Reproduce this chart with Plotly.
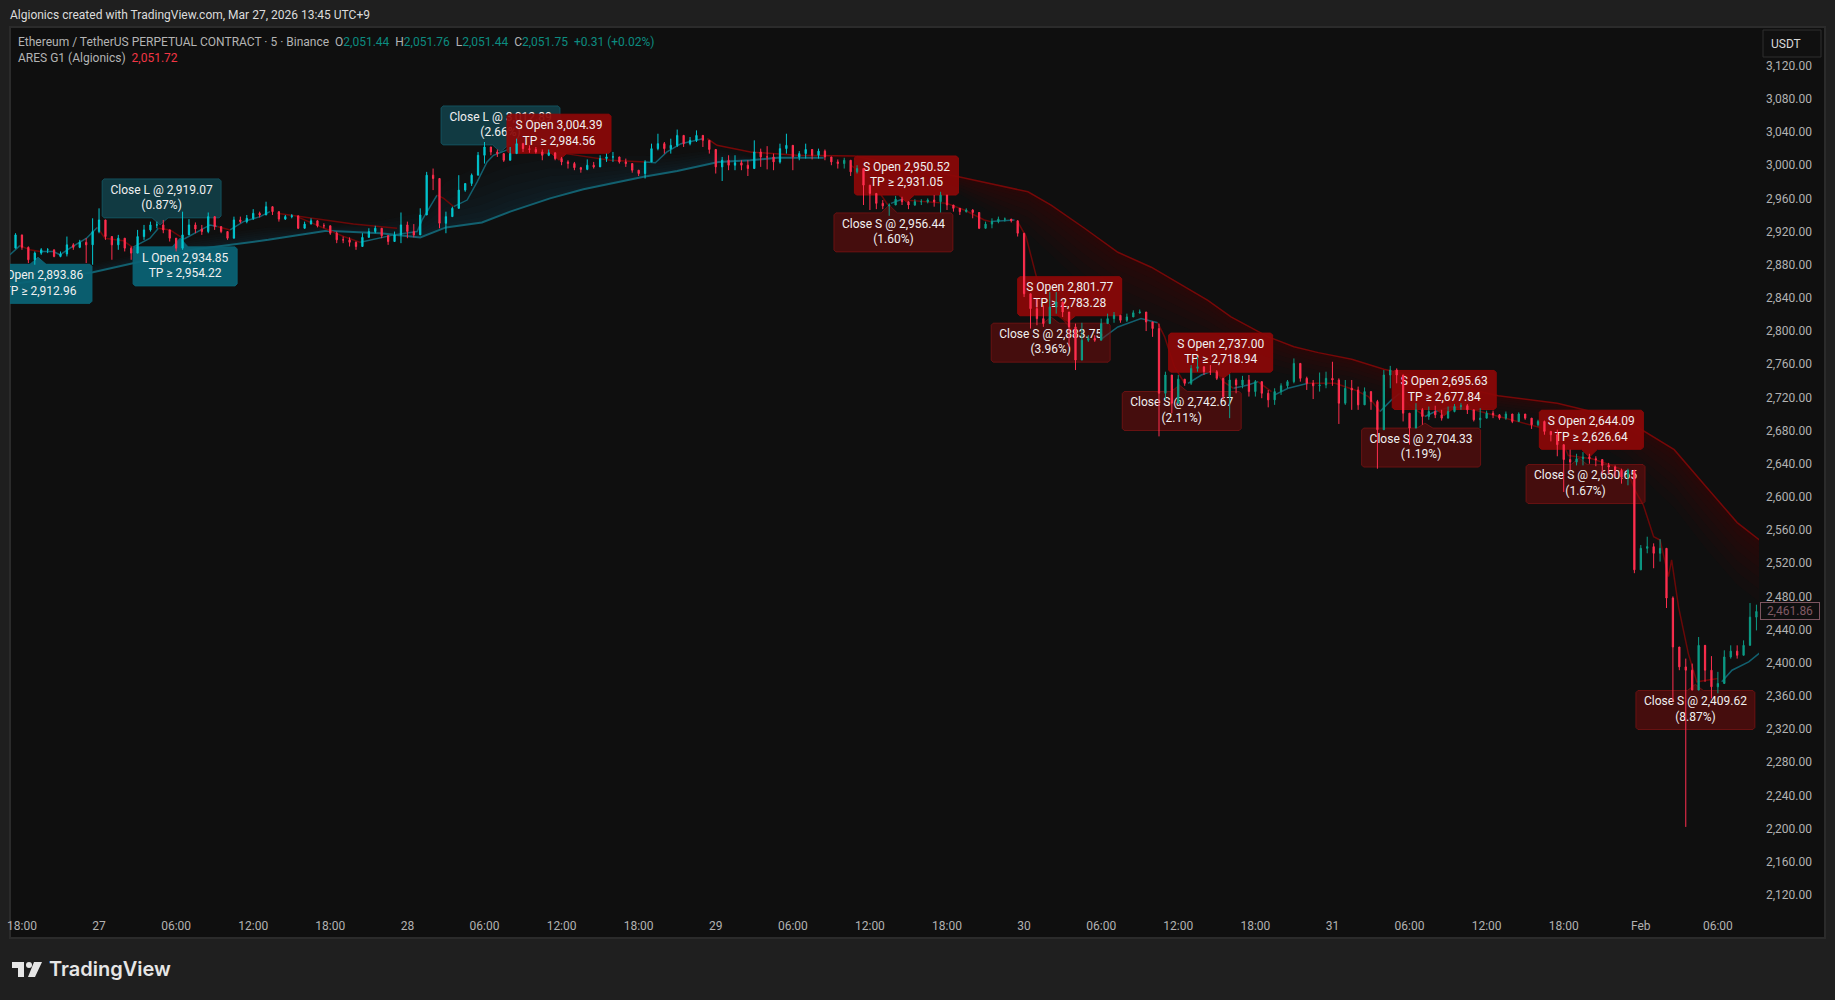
import plotly.graph_objects as go

# Candles: one per 30 minutes, x in hours from Jan 27 00:00
closes = [
    2900, 2916, 2901, 2886, 2894, 2898, 2898, 2890, 2893, 2904,
    2901, 2907, 2904, 2920, 2934, 2914, 2904, 2912, 2900, 2894,
    2914, 2922, 2928, 2928, 2922, 2912, 2900, 2916, 2928, 2923,
    2920, 2938, 2926, 2920, 2912, 2934, 2932, 2936, 2942,
    2940, 2950, 2944, 2935, 2938, 2939, 2924, 2929, 2933, 2927,
    2927, 2918, 2910, 2910, 2907, 2902, 2913, 2920, 2924, 2915,
    2908, 2916, 2928, 2920, 2916, 2940, 2988, 2984, 2930, 2938,
    2948, 2970, 2978, 2988, 3012, 3022, 3016, 3014, 3006,
    3014, 3026, 3020, 3019, 3016, 3012, 3015, 3008, 3004, 3002,
    2997, 2995, 3000, 2998, 3008, 3010, 3010, 3004, 3002, 2994,
    2990, 3004, 3020, 3026, 3020, 3024, 3036, 3026, 3030, 3036,
    3030, 3019, 2998, 3006, 3000, 3003, 3000, 2996, 3016, 3010,
    3010, 3004, 3020, 3024, 3010, 3014, 3019, 3012, 3017, 3010,
    3004, 3002, 3006, 2992, 2996,
    2976, 2966, 2954, 2951, 2952, 2959, 2956, 2952, 2956, 2956,
    2958, 2956, 2964, 2952, 2948, 2944, 2946, 2943, 2924, 2929,
    2932, 2935, 2935, 2933, 2918, 2845, 2827, 2815, 2809, 2829,
    2835, 2823, 2805, 2765, 2789, 2791, 2789, 2809, 2815, 2819,
    2813, 2817, 2822, 2823, 2811,
    2803, 2725, 2747, 2713, 2742, 2737, 2755, 2757, 2751, 2751,
    2743, 2721, 2741, 2735, 2741, 2727, 2739, 2725, 2717, 2727,
    2734, 2739, 2761, 2743, 2737, 2734, 2735, 2743, 2741, 2713,
    2731, 2729, 2711, 2727, 2715, 2681, 2747, 2753, 2747, 2701,
    2683, 2705, 2697, 2703, 2699, 2695, 2703,
    2709, 2710, 2705, 2693, 2695, 2701, 2699, 2695, 2700, 2691,
    2700, 2695, 2687, 2691, 2679, 2675, 2663, 2645, 2642, 2646,
    2648, 2646, 2645, 2638, 2636, 2632, 2624, 2632,
    2512, 2538, 2540, 2532, 2538, 2478, 2419, 2395, 2391, 2367,
    2421, 2391, 2371, 2375, 2407, 2414, 2409, 2421, 2455, 2461.86,
]
highs = [
    2934, 2918, 2916, 2902, 2896, 2900, 2900, 2898, 2896, 2914,
    2906, 2910, 2912, 2936, 2948, 2934, 2912, 2916, 2912, 2902,
    2922, 2928, 2932, 2932, 2934, 2920, 2912, 2944, 2935, 2931,
    2928, 2943, 2936, 2926, 2920, 2938, 2938, 2940, 2947,
    2944, 2956, 2948, 2942, 2940, 2941, 2939, 2932, 2936, 2931,
    2930, 2924, 2920, 2914, 2913, 2908, 2918, 2924, 2927, 2924,
    2916, 2920, 2943, 2932, 2929, 2948, 2992, 2996, 2982, 2944,
    2950, 2988, 2978, 2990, 3016, 3028, 3022, 3019, 3014,
    3022, 3032, 3027, 3024, 3022, 3019, 3019, 3014, 3010, 3006,
    3004, 2998, 3007, 3004, 3012, 3014, 3016, 3007, 3008, 2998,
    2994, 3006, 3026, 3038, 3028, 3032, 3043, 3032, 3034, 3042,
    3034, 3030, 3016, 3010, 3012, 3012, 3006, 3006, 3030, 3020,
    3023, 3014, 3026, 3038, 3016, 3017, 3026, 3018, 3020, 3019,
    3010, 3007, 3009, 3006, 3000,
    2994, 2971, 2964, 2958, 2954, 2963, 2962, 2956, 2959, 2959,
    2960, 2964, 2968, 2956, 2950, 2947, 2948, 2947, 2942, 2932,
    2936, 2938, 2937, 2935, 2932, 2918, 2845, 2839, 2831, 2847,
    2847, 2833, 2821, 2809, 2810, 2795, 2795, 2815, 2821, 2823,
    2819, 2821, 2825, 2826, 2823,
    2811, 2809, 2751, 2737, 2747, 2742, 2759, 2769, 2757, 2759,
    2753, 2741, 2748, 2743, 2746, 2747, 2741, 2737, 2729, 2731,
    2737, 2741, 2767, 2759, 2745, 2741, 2750, 2751, 2763, 2743,
    2741, 2741, 2733, 2732, 2727, 2717, 2753, 2758, 2755, 2747,
    2701, 2713, 2707, 2709, 2710, 2705, 2709,
    2712, 2713, 2712, 2704, 2707, 2704, 2704, 2700, 2703, 2699,
    2702, 2698, 2695, 2693, 2692, 2679, 2681, 2663, 2657, 2652,
    2654, 2652, 2649, 2644, 2641, 2638, 2634, 2634,
    2628, 2542, 2552, 2544, 2549, 2520, 2480, 2415, 2405, 2399,
    2431, 2411, 2408, 2389, 2415, 2421, 2421, 2427, 2472, 2470,
]
lows = [
    2896, 2900, 2898, 2882, 2880, 2892, 2894, 2889, 2889, 2890,
    2898, 2900, 2882, 2880, 2918, 2910, 2886, 2898, 2896, 2886,
    2901, 2910, 2920, 2924, 2918, 2908, 2896, 2898, 2920, 2918,
    2916, 2918, 2922, 2918, 2910, 2914, 2930, 2930, 2934,
    2937, 2940, 2940, 2932, 2934, 2936, 2923, 2925, 2929, 2925,
    2924, 2916, 2906, 2906, 2902, 2898, 2902, 2914, 2918, 2912,
    2904, 2908, 2906, 2912, 2913, 2918, 2940, 2970, 2924, 2918,
    2938, 2950, 2968, 2975, 2988, 3002, 3012, 3010, 3004,
    3010, 3014, 3016, 3015, 3014, 3006, 3011, 3006, 3000, 2996,
    2994, 2991, 2994, 2996, 3000, 3004, 3004, 3002, 2998, 2991,
    2987, 2984, 3004, 3018, 3014, 3014, 3022, 3022, 3024, 3028,
    3022, 3014, 2990, 2981, 2994, 2994, 2994, 2987, 3002, 2998,
    2995, 2994, 3002, 3014, 2994, 3006, 3008, 3007, 3008, 3006,
    3000, 2996, 2996, 2987, 2990,
    2952, 2946, 2947, 2947, 2939, 2952, 2952, 2947, 2951, 2952,
    2954, 2950, 2943, 2946, 2944, 2940, 2943, 2936, 2923, 2925,
    2924, 2930, 2932, 2931, 2914, 2841, 2803, 2807, 2805, 2809,
    2821, 2817, 2781, 2753, 2767, 2787, 2787, 2789, 2809, 2810,
    2810, 2811, 2817, 2821, 2800,
    2793, 2673, 2717, 2701, 2713, 2734, 2735, 2751, 2747, 2747,
    2741, 2717, 2695, 2725, 2731, 2721, 2721, 2719, 2708, 2711,
    2723, 2731, 2737, 2739, 2729, 2718, 2727, 2731, 2734, 2688,
    2711, 2705, 2705, 2717, 2705, 2634, 2685, 2731, 2737, 2691,
    2663, 2685, 2687, 2693, 2695, 2692, 2697,
    2702, 2705, 2700, 2691, 2683, 2697, 2695, 2693, 2693, 2689,
    2691, 2693, 2682, 2685, 2675, 2667, 2649, 2606, 2632, 2638,
    2638, 2640, 2637, 2628, 2628, 2624, 2616, 2614,
    2508, 2512, 2532, 2514, 2522, 2466, 2353, 2391, 2202, 2367,
    2367, 2377, 2357, 2363, 2377, 2405, 2405, 2409, 2431, 2439,
]
assert len(closes) == len(highs) == len(lows)

# Slow band lines and how far the faded cloud reaches from them
teal_slow_h = [-6.94, -0.47, 2.73, 7.25, 13.17, 17.7, 21.9, 25, 27, 29.8, 32, 35.1, 37.7, 42.4, 45, 48.2, 50.7, 52.8, 56.4]
teal_slow_p = [2856, 2871, 2882, 2898, 2910, 2921, 2918, 2913, 2925, 2931, 2944, 2960, 2971, 2986, 2993, 3004, 3006, 3009, 3009]
teal_cloud = [0, 10, 10, 15, 15, 5, 15, 30, 55, 70, 70, 60, 40, 25, 20, 15, 5, 0, 0]

red_slow_h = [47.35, 48.1, 50.7, 54.3, 58.8, 66.9, 72.3, 74.1, 76.7, 79.3, 81.9, 86.3, 88.1, 89.7, 91, 93, 94.9, 97.5, 100, 108.9, 113.5, 118.8, 122.6, 125.1, 127.5, 129.4]
red_slow_p = [3032, 3024, 3016, 3012, 3011, 2986, 2968, 2952, 2924, 2895, 2877, 2837, 2817, 2804, 2793, 2781, 2774, 2766, 2754, 2722, 2713, 2693, 2657, 2612, 2569, 2546]
red_cloud = [0, 0, 0, 0, 5, 20, 50, 60, 70, 70, 70, 55, 50, 45, 40, 35, 35, 35, 35, 20, 20, 50, 70, 75, 75, 75]

# Fast lines, None separates the stretches
teal_fast_h = [-6.94, -6.16, None, -4.6, -3.56, -3.04, -2.26, -0.97, -0.14, None, 2.62, 3.97, 4.62, None,
               6.62, 8.64, 9.2, None, 10.2, 11.24, 12.54, 13.3, None, 20.34, 22.94, 24.76, 25.15, 26.31, None,
               27.6, 28.65, 29.43, 30.2, 30.7, 32, None, 42.55, 43.3, 44.2, 45.3, 47, None,
               61.64, 62.5, None, 69.4, 71.25, None, 77.9, 79.3, 81.1, 82.4, None, 84.76, 85.8, 86.84, None,
               88.3, 89.43, 90.2, None, 91.5, 92.55, 94.1, None, 99.7, 100.6, 101.25, None,
               103.2, 104, 105.3, 107, None, 126.3, 127.1, 128.4, 129.35]
teal_fast_p = [2892, 2903, None, 2896, 2896, 2892, 2900, 2912, 2925, None, 2901, 2912, 2924, None,
               2911, 2928, 2926, None, 2922, 2932, 2938, 2944, None, 2907, 2916, 2920, 2934, 2964, None,
               2950, 2958, 2980, 3004, 3012, 3020, None, 3004, 3003, 3016, 3026, 3032, None,
               2954, 2959, None, 2932, 2934, None, 2789, 2805, 2815, 2810, None, 2737, 2747, 2753, None,
               2731, 2735, 2739, None, 2723, 2731, 2737, None, 2703, 2717, 2725, None,
               2697, 2703, 2709, 2705, None, 2377, 2391, 2401, 2413]

red_fast_h = [-6.16, -5.38, -4.6, None, -0.14, 0.46, 1.89, 2.62, None, 4.62, 5.53, 6.62, None, 9.2, 10.2, None,
              13.85, 16.7, 19.8, 23.2, None, 15.4, 17.74, 19.04, 20.34, None, 26.31, 26.83, 27.6, None,
              32.5, 36.3, 39.8, 42.55, None, 58.5, 60.1, 61.4, None, 62.7, 66, 67.35, 68.9, 69.4, None,
              71.5, 72.15, 72.95, 73.85, 75.1, 76.2, None, 82.4, 82.94, 83.7, 84.5, None, 86.84, 87.5, 88.3, None,
              90.2, 91.25, None, 94.1, 96.2, 97.75, 98.8, 99.7, None, 101.25, 101.9, 103.2, None,
              107, 112.8, 113.84, 114.36, 116.2, 117.74, 119, 119.55, 120.2, 121, 121.5, 122.15,
              122.4, 122.94, 123.7, 124.36, 126]
red_fast_p = [2903, 2898, 2896, None, 2925, 2912, 2909, 2901, None, 2924, 2922, 2911, None, 2926, 2922, None,
              2942, 2936, 2929, 2924, None, 2938, 2922, 2914, 2907, None, 2964, 2960, 2950, None,
              3024, 3014, 3006, 3004, None, 3000, 2982, 2952, None, 2958, 2954, 2946, 2934, 2932, None,
              2932, 2914, 2866, 2829, 2813, 2793, None, 2810, 2793, 2757, 2737, None, 2753, 2739, 2731, None,
              2739, 2727, None, 2737, 2737, 2729, 2721, 2703, None, 2725, 2712, 2697, None,
              2705, 2681, 2669, 2650, 2646, 2638, 2630, 2608, 2590, 2552, 2548, 2504,
              2524, 2467, 2411, 2377, 2381]

# Trade labels: kind, text, box centre, tip of the pointer
label_kind = ["l_open", "close_l", "l_open", "close_l", "s_open", "close_s", "s_open", "close_s",
              "s_open", "close_s", "s_open", "close_s", "s_open", "close_s", "s_open", "close_s"]
label_text = [
    "L Open 2,893.86<br>TP ≥ 2,912.96", "Close L @ 2,919.07<br>(0.87%)",
    "L Open 2,934.85<br>TP ≥ 2,954.22", "Close L @ 3,012.89<br>(2.66%)",
    "S Open 3,004.39<br>TP ≥ 2,984.56", "Close S @ 2,956.44<br>(1.60%)",
    "S Open 2,950.52<br>TP ≥ 2,931.05", "Close S @ 2,883.75<br>(3.96%)",
    "S Open 2,801.77<br>TP ≥ 2,783.28", "Close S @ 2,742.67<br>(2.11%)",
    "S Open 2,737.00<br>TP ≥ 2,718.94", "Close S @ 2,704.33<br>(1.19%)",
    "S Open 2,695.63<br>TP ≥ 2,677.84", "Close S @ 2,650.65<br>(1.67%)",
    "S Open 2,644.09<br>TP ≥ 2,626.64", "Close S @ 2,409.62<br>(8.87%)",
]
label_h = [-4.6, 4.87, 6.7, 31.25, 35.8, 61.83, 62.84, 74.07, 75.55, 84.27, 87.3, 102.9, 104.7, 115.7, 116.15, 124.25]
label_p = [2857, 2960, 2878, 3048, 3038, 2919, 2987.6, 2786, 2842, 2703.6, 2774, 2659.5, 2729, 2615.5, 2681, 2343]
tip_h = [-4.75, 4.75, 6.31, 31.25, 35.8, 61.5, 62.84, 74.1, 75.4, 84.08, 87.5, 103.2, 104.7, 115.2, 116, 124.25]
tip_p = [2889, 2928, 2912, 3016, 3006, 2952, 2955.6, 2817, 2811, 2735, 2743, 2689, 2698, 2647, 2648, 2374]

price_ticks = list(range(3120, 2119, -40))
time_ticks = list(range(-6, 127, 6))
time_labels = ["18:00", "27", "06:00", "12:00", "18:00", "28", "06:00", "12:00", "18:00", "29", "06:00", "12:00",
               "18:00", "30", "06:00", "12:00", "18:00", "31", "06:00", "12:00", "18:00", "Feb", "06:00"]

# Pixel frame of the chart
PLOT_L, PLOT_R, PLOT_T, PLOT_B = 10, 1759, 27, 912
X_RANGE = [-6.93, 129.2]
Y_RANGE = [2099.4, 3166.7]
PX_PER_H = 12.849
PX_PER_P = 0.829

LABEL_STYLE = {
    "l_open": ("rgba(10,100,118,0.92)", "rgba(10,100,118,1)", 52),
    "close_l": ("rgba(20,95,110,0.55)", "rgba(20,95,110,0.7)", 59.5),
    "s_open": ("rgba(140,8,8,0.92)", "rgba(140,8,8,1)", 52),
    "close_s": ("rgba(130,12,12,0.48)", "rgba(130,20,20,0.7)", 59.5),
}


def paper_x(x):
    return (x - PLOT_L) / (PLOT_R - PLOT_L)


def paper_y(y):
    return (PLOT_B - y) / (PLOT_B - PLOT_T)


def label_outline(cx, cy, tx, ty, half_w):
    # box with clipped corners and a small pointer on the side of the tip
    w = half_w / PX_PER_H
    h = 19.5 / PX_PER_P
    cw = 2 / PX_PER_H
    ch = 2 / PX_PER_P
    pw = 8 / PX_PER_H
    top = [cx - w + cw, cx + w - cw]
    xs = [top[0]]
    ys = [cy + h]
    if ty > cy:
        xs += [tx - pw, tx, tx + pw]
        ys += [cy + h, ty, cy + h]
    xs += [top[1], cx + w, cx + w, top[1]]
    ys += [cy + h, cy + h - ch, cy - h + ch, cy - h]
    if ty < cy:
        xs += [tx + pw, tx, tx - pw]
        ys += [cy - h, ty, cy - h]
    xs += [top[0], cx - w, cx - w, top[0]]
    ys += [cy - h, cy - h + ch, cy + h - ch, cy + h]
    return xs, ys


fig = go.Figure()

# Faded clouds, stacked thin layers bunched towards the line
BANDS = 8
for b in range(1, BANDS + 1):
    f = (b / BANDS) ** 1.7
    fig.add_trace(go.Scatter(
        x=teal_slow_h + teal_slow_h[::-1],
        y=teal_slow_p + [p + d * f for p, d in zip(teal_slow_p[::-1], teal_cloud[::-1])],
        fill="toself", mode="none", fillcolor="rgba(20,110,125,0.032)", hoverinfo="skip", showlegend=False,
    ))
    fig.add_trace(go.Scatter(
        x=red_slow_h + red_slow_h[::-1],
        y=red_slow_p + [p - d * f for p, d in zip(red_slow_p[::-1], red_cloud[::-1])],
        fill="toself", mode="none", fillcolor="rgba(130,5,5,0.035)", hoverinfo="skip", showlegend=False,
    ))

fig.add_trace(go.Scatter(x=teal_slow_h, y=teal_slow_p, mode="lines", line=dict(color="#12606f", width=2),
                         hoverinfo="skip", showlegend=False))
fig.add_trace(go.Scatter(x=red_slow_h, y=red_slow_p, mode="lines", line=dict(color="#760808", width=1.5),
                         hoverinfo="skip", showlegend=False))
fig.add_trace(go.Scatter(x=teal_fast_h, y=teal_fast_p, mode="lines", line=dict(color="#12606f", width=1.5),
                         hoverinfo="skip", showlegend=False))
fig.add_trace(go.Scatter(x=red_fast_h, y=red_fast_p, mode="lines", line=dict(color="#6a0808", width=1.5),
                         hoverinfo="skip", showlegend=False))

for kind, text, cx, cy, tx, ty in zip(label_kind, label_text, label_h, label_p, tip_h, tip_p):
    fill, edge, half_w = LABEL_STYLE[kind]
    xs, ys = label_outline(cx, cy, tx, ty, half_w)
    fig.add_trace(go.Scatter(x=xs, y=ys, fill="toself", mode="lines", fillcolor=fill,
                             line=dict(color=edge, width=1), hoverinfo="skip", showlegend=False))
    fig.add_trace(go.Scatter(x=[cx], y=[cy], mode="text", text=[text], textposition="middle center",
                             textfont=dict(family="Roboto", size=12, color="#f0f0f0"),
                             hoverinfo="skip", showlegend=False))

# Candles sit on an overlaid axis so that they draw above the labels
hours = [-7 + 0.5 * i for i in range(len(closes))]
opens = [closes[0]] + closes[:-1]
SPLIT = 128
for start, end, up_colour in [(0, SPLIT, "#00c6cf"), (SPLIT, len(closes), "#0c9c86")]:
    fig.add_trace(go.Candlestick(
        x=hours[start:end], open=opens[start:end], high=highs[start:end], low=lows[start:end], close=closes[start:end],
        yaxis="y2", whiskerwidth=0,
        increasing=dict(line=dict(color=up_colour, width=1), fillcolor=up_colour),
        decreasing=dict(line=dict(color="#ff2e4e", width=1), fillcolor="#ff2e4e"),
        showlegend=False,
    ))

shapes = [
    # chart frame reaching over the two axes
    dict(type="rect", xref="paper", yref="paper", layer="below",
         x0=paper_x(10), x1=paper_x(1825), y0=paper_y(938), y1=paper_y(27),
         fillcolor="#0f0f0f", line=dict(color="#2b2b2b", width=2)),
    # TradingView mark
    dict(type="path", xref="paper", yref="paper", fillcolor="#e6e6e6", line=dict(width=0),
         path="M {} {} L {} {} L {} {} L {} {} L {} {} L {} {} Z".format(
             paper_x(12), paper_y(962), paper_x(24), paper_y(962), paper_x(24), paper_y(977),
             paper_x(18), paper_y(977), paper_x(18), paper_y(968), paper_x(12), paper_y(968))),
    dict(type="circle", xref="paper", yref="paper", fillcolor="#e6e6e6", line=dict(width=0),
         x0=paper_x(26), x1=paper_x(32), y0=paper_y(968), y1=paper_y(962)),
    dict(type="path", xref="paper", yref="paper", fillcolor="#e6e6e6", line=dict(width=0),
         path="M {} {} L {} {} L {} {} L {} {} Z".format(
             paper_x(34), paper_y(962), paper_x(42), paper_y(962), paper_x(35), paper_y(977),
             paper_x(28), paper_y(977))),
    # currency button
    dict(type="rect", xref="paper", yref="paper",
         x0=paper_x(1763), x1=paper_x(1821), y0=paper_y(57), y1=paper_y(30),
         fillcolor="#101010", line=dict(color="#2e2e2e", width=1)),
]

TEAL_TEXT = "#0c8c80"
legend_line = ("Ethereum / TetherUS PERPETUAL CONTRACT · 5 · Binance  "
               f"O<span style='color:{TEAL_TEXT}'>2,051.44</span>  H<span style='color:{TEAL_TEXT}'>2,051.76</span>  "
               f"L<span style='color:{TEAL_TEXT}'>2,051.44</span>  C<span style='color:{TEAL_TEXT}'>2,051.75</span>  "
               f"<span style='color:{TEAL_TEXT}'>+0.31 (+0.02%)</span>")
annotations = [
    dict(text="Algionics created with TradingView.com, Mar 27, 2026 13:45 UTC+9", x=paper_x(8), y=paper_y(15),
         font=dict(color="#dcdcdc", size=12)),
    dict(text=legend_line, x=paper_x(15.5), y=paper_y(41.5), font=dict(color="#b4b4b4", size=12)),
    dict(text="ARES G1 (Algionics)  <span style='color:#f23645'>2,051.72</span>", x=paper_x(15.5), y=paper_y(58.5),
         font=dict(color="#b4b4b4", size=12)),
    dict(text="TradingView", x=paper_x(47), y=paper_y(969), font=dict(family="Inter", color="#e6e6e6", size=20, weight=600)),
    dict(text="USDT", x=paper_x(1769), y=paper_y(44), font=dict(color="#d8d8d8", size=12)),
]
for a in annotations:
    a.update(xref="paper", yref="paper", xanchor="left", yanchor="middle", showarrow=False)
annotations.append(dict(
    text="2,461.86", xref="paper", yref="y", x=paper_x(1790), y=closes[-1], showarrow=False,
    xanchor="center", yanchor="middle", bgcolor="#0f0f0f", bordercolor="#7d5560", borderwidth=1, borderpad=1,
    width=56, font=dict(color="#805a64", size=12),
))

fig.update_layout(
    width=1835, height=1000,
    margin=dict(l=PLOT_L, r=1835 - PLOT_R, t=PLOT_T, b=1000 - PLOT_B, autoexpand=False),
    paper_bgcolor="#1f1f1f", plot_bgcolor="#0f0f0f",
    font=dict(family="Roboto", size=12, color="#b2b2b2"),
    boxgap=0.72, showlegend=False,
    xaxis=dict(range=X_RANGE, tickmode="array", tickvals=time_ticks, ticktext=time_labels, showgrid=False,
               zeroline=False, showline=False, ticks="", ticklabelstandoff=5, rangeslider=dict(visible=False),
               fixedrange=True),
    yaxis=dict(range=Y_RANGE, side="right", tickmode="array", tickvals=price_ticks,
               ticktext=[f"{p:,.2f}" for p in price_ticks], showgrid=False, zeroline=False, showline=False,
               ticks="", ticklabelstandoff=6, fixedrange=True),
    yaxis2=dict(range=Y_RANGE, overlaying="y", side="right", visible=False, fixedrange=True),
    shapes=shapes, annotations=annotations,
)

fig.write_html("out.html", config=dict(displayModeBar=False), post_script="document.body.style.margin='0';")
